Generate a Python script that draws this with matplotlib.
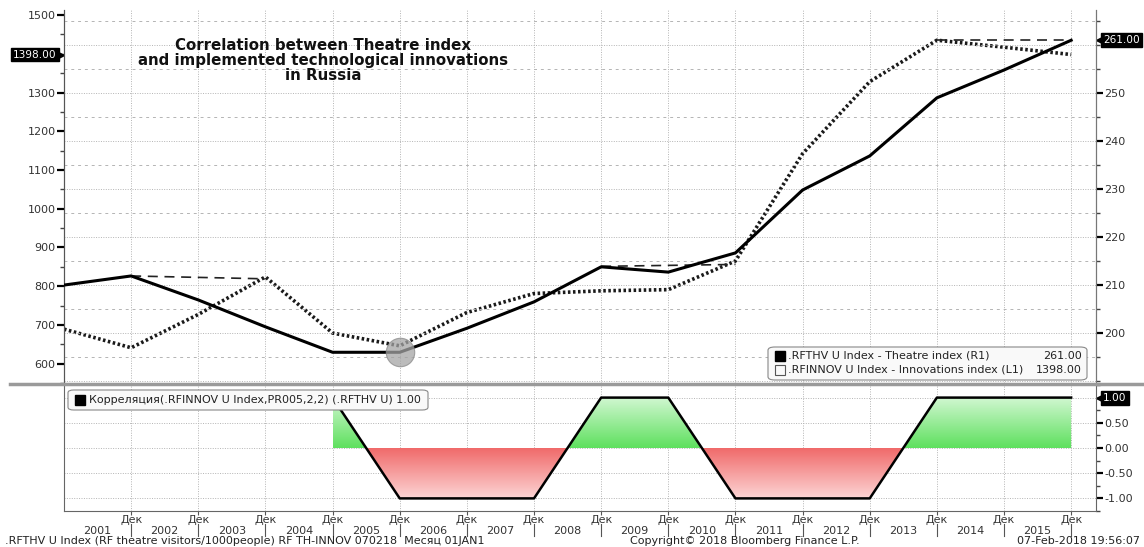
import numpy as np
import matplotlib
matplotlib.use("Agg")
import matplotlib.pyplot as plt
import matplotlib.transforms as mtransforms
from matplotlib.patches import FancyBboxPatch
from matplotlib.path import Path
from matplotlib.lines import Line2D
from matplotlib.colors import LinearSegmentedColormap

# annual data, value at December of each year
years = [2000, 2001, 2002, 2003, 2004, 2005, 2006, 2007,
         2008, 2009, 2010, 2011, 2012, 2013, 2014, 2015]
theatre = [210.0, 211.9, 206.9, 201.3, 196.0, 196.0, 201.0, 206.5,
           213.8, 212.7, 216.7, 229.8, 236.9, 249.0, 254.8, 261.0]
innov = [689, 641, 727, 824, 679, 646, 732, 781,
         788, 791, 865, 1142, 1328, 1435, 1417, 1398]

corr_years = [2004, 2005, 2006, 2007, 2008, 2009, 2010, 2011, 2012, 2013, 2014, 2015]
corr = [1, -1, -1, -1, 1, 1, -1, -1, -1, 1, 1, 1]

# dashed connector segments (right axis values)
seg_years = [(2001, 2003), (2008, 2010), (2013, 2015)]
seg_vals = [(211.9, 211.3), (213.9, 214.3), (261.0, 261.0)]

year_labels = [str(y) for y in range(2001, 2016)]
month_label = "Дек"

W, H = 1144, 547


def fx(px):
    return px / W


def fy(py):
    return 1 - py / H


fig = plt.figure(figsize=(W / 100, H / 100), dpi=100)
ax1 = fig.add_axes([fx(64), fy(383), fx(1096 - 64), (383 - 10) / H])
ax2 = ax1.twinx()
ax3 = fig.add_axes([fx(64), fy(511), fx(1096 - 64), (511 - 385) / H])

xmin, xmax = 2000, 2015.37
dec_pos = years[1:]
grid_c = "#b4b4b4"
txt_c = "#222222"
fs = 8

# ---- upper panel
for v in range(190, 270, 5):
    if v % 10 == 0:
        ax2.axhline(v, color=grid_c, lw=0.7, ls=(0, (1, 1.5)), zorder=0)
    else:
        ax2.axhline(v, color=grid_c, lw=0.7, ls=(0, (3, 4)), zorder=0)
for x in dec_pos:
    ax1.axvline(x, color=grid_c, lw=0.7, ls=(0, (1, 1.5)), zorder=0)

ax1.plot(years, innov, color="#1a1a1a", lw=2.6, ls=(0, (0.7, 0.7)), zorder=3)
ax2.plot(years, theatre, color="black", lw=2.2, zorder=3)
for (xa, xb), (va, vb) in zip(seg_years, seg_vals):
    ax2.plot([xa, xb], [va, vb], color="#222222", lw=1.2, ls=(0, (6, 4)), zorder=2)
ax2.scatter([years[5]], [theatre[5]], s=420, color="#a4a4a4", alpha=0.75,
            edgecolor="#8a8a8a", lw=0.8, zorder=4)

ax1.set_xlim(xmin, xmax)
ax1.set_ylim(562, 1513)
ax2.set_ylim(189.6, 267.3)
ax1.set_yticks([600, 700, 800, 900, 1000, 1100, 1200, 1300, 1500])
ax1.set_yticks(np.arange(550, 1520, 50), minor=True)
ax2.set_yticks([200, 210, 220, 230, 240, 250])
ax2.set_yticks(np.arange(190, 268, 5), minor=True)
ax1.set_xticks([])
for a in (ax1, ax2):
    a.tick_params(axis="y", which="major", length=5, width=1.6, color="black",
                  labelsize=fs, labelcolor="#333333", pad=1)
    a.tick_params(axis="y", which="minor", length=3, width=1.0, color="#444444")
    for s in ("top", "bottom"):
        a.spines[s].set_visible(False)
    a.spines["left"].set_color("#555555")
    a.spines["right"].set_color("#777777")

blend1 = mtransforms.blended_transform_factory(ax1.transAxes, ax1.transData)
blend2 = mtransforms.blended_transform_factory(ax2.transAxes, ax2.transData)
tag_style = dict(boxstyle="square,pad=0.18", fc="black", ec="black")
tag_fs = 7.6
ax1.text(-0.007, innov[-1], "%.2f" % innov[-1], transform=blend1, ha="right",
         va="center", color="white", fontsize=tag_fs, bbox=tag_style, zorder=10,
         clip_on=False)
ax1.plot([-0.004], [innov[-1]], marker=">", ms=6, color="black",
         transform=blend1, clip_on=False)
ax2.text(1.007, theatre[-1], "%.2f" % theatre[-1], transform=blend2, ha="left",
         va="center", color="white", fontsize=tag_fs, bbox=tag_style, zorder=10,
         clip_on=False)
ax2.plot([1.004], [theatre[-1]], marker="<", ms=6, color="black",
         transform=blend2, clip_on=False)

fig.text(fx(323), fy(60), "Correlation between Theatre index\n"
         "and implemented technological innovations\nin Russia",
         ha="center", va="center", fontsize=10.8, fontweight="bold",
         linespacing=1.0, color="#111111")

# upper legend
leg = FancyBboxPatch((fx(768), fy(380)), fx(1087 - 768), (380 - 347) / H,
                     boxstyle="round,pad=0,rounding_size=0.006",
                     transform=fig.transFigure, fc="#f9f9f9", ec="#888888",
                     lw=0.8, zorder=5)
fig.patches.append(leg)
fig.lines.append(Line2D([fx(780)], [fy(356)], marker="s", ms=7, color="black",
                        transform=fig.transFigure, zorder=6))
fig.lines.append(Line2D([fx(780)], [fy(370)], marker="s", ms=7, mfc="none",
                        mec="#555555", mew=0.8, ls="none",
                        transform=fig.transFigure, zorder=6))
fig.text(fx(788), fy(356), ".RFTHV U Index - Theatre index (R1)", fontsize=fs,
         va="center", zorder=7, color=txt_c)
fig.text(fx(788), fy(370), ".RFINNOV U Index - Innovations index (L1)",
         fontsize=fs, va="center", zorder=7, color=txt_c)
fig.text(fx(1082), fy(356), "%.2f" % theatre[-1], fontsize=fs, va="center",
         ha="right", zorder=7, color=txt_c)
fig.text(fx(1082), fy(370), "%.2f" % innov[-1], fontsize=fs, va="center",
         ha="right", zorder=7, color=txt_c)

# ---- lower panel
cx = np.array(corr_years, dtype=float)
cy = np.array(corr, dtype=float)
for v in (-1, -0.5, 0, 0.5, 1):
    ax3.axhline(v, color=grid_c, lw=0.7, ls=(0, (1, 1.5)), zorder=0)
for x in dec_pos:
    ax3.axvline(x, color=grid_c, lw=0.7, ls=(0, (1, 1.5)), zorder=0)


def grad_fill(ax, where, y0, y1, c_bottom, c_top):
    coll = ax.fill_between(cx, cy, 0, where=where, interpolate=True,
                           facecolor="none", edgecolor="none")
    path = Path.make_compound_path(*coll.get_paths())
    cmap = LinearSegmentedColormap.from_list("g", [c_bottom, c_top])
    grad = np.linspace(0, 1, 256).reshape(-1, 1)
    im = ax.imshow(grad, extent=[cx.min(), cx.max(), y0, y1], origin="lower",
                   cmap=cmap, aspect="auto", zorder=1, interpolation="bilinear")
    im.set_clip_path(path, ax.transData)


grad_fill(ax3, cy >= 0, 0, 1, "#5ee05e", "#d2f7d2")
grad_fill(ax3, cy <= 0, -1, 0, "#fcd4d4", "#f06868")
ax3.plot(cx, cy, color="black", lw=1.8, zorder=3)

ax3.set_xlim(xmin, xmax)
ax3.set_ylim(-1.235, 1.235)
ax3.yaxis.tick_right()
ax3.set_yticks([-1, -0.5, 0, 0.5])
ax3.set_yticklabels(["-1.00", "-0.50", "0.00", "0.50"])
ax3.set_yticks(np.arange(-1.25, 1.26, 0.25), minor=True)
ax3.tick_params(axis="y", which="major", length=5, width=1.6, color="black",
                labelsize=fs, labelcolor="#333333", pad=1)
ax3.tick_params(axis="y", which="minor", length=3, width=1.0, color="#444444")
ax3.set_xticks(dec_pos)
ax3.set_xticklabels([month_label] * len(dec_pos))
ax3.set_xticks([y - 0.5 for y in dec_pos], minor=True)
ax3.set_xticklabels(year_labels, minor=True)
ax3.tick_params(axis="x", which="major", length=3, width=0.8, color="#555555",
                labelsize=fs, labelcolor="#333333", pad=0)
ax3.tick_params(axis="x", which="minor", length=0, labelsize=fs,
                labelcolor="#333333", pad=11)
ax3.spines["top"].set_visible(False)
for s in ("left", "right", "bottom"):
    ax3.spines[s].set_color("#666666")

blend3 = mtransforms.blended_transform_factory(ax3.transData, ax3.transAxes)
for x in dec_pos:
    ax3.plot([x, x], [-0.1, -0.2], color="#555555", lw=0.8,
             transform=blend3, clip_on=False)

blend3y = mtransforms.blended_transform_factory(ax3.transAxes, ax3.transData)
ax3.text(1.007, corr[-1], "%.2f" % corr[-1], transform=blend3y, ha="left",
         va="center", color="white", fontsize=tag_fs, bbox=tag_style, zorder=10,
         clip_on=False)
ax3.plot([1.004], [corr[-1]], marker="<", ms=6, color="black",
         transform=blend3y, clip_on=False)

leg2 = FancyBboxPatch((fx(68), fy(410)), fx(428 - 68), (410 - 390) / H,
                      boxstyle="round,pad=0,rounding_size=0.005",
                      transform=fig.transFigure, fc="#f9f9f9", ec="#888888",
                      lw=0.8, zorder=5)
fig.patches.append(leg2)
fig.lines.append(Line2D([fx(80)], [fy(400)], marker="s", ms=7, color="black",
                        transform=fig.transFigure, zorder=6))
fig.text(fx(89), fy(400), "Корреляция(.RFINNOV U Index,PR005,2,2) (.RFTHV U) %.2f"
         % corr[-1], fontsize=fs, va="center", zorder=7, color=txt_c)

# panel divider
fig.lines.append(Line2D([fx(10), 1], [fy(384), fy(384)], color="#9a9a9a", lw=2.5,
                        transform=fig.transFigure, zorder=8))

# footer
fig.text(fx(5), fy(541), ".RFTHV U Index (RF theatre visitors/1000people) RF TH-INNOV 070218  Месяц 01JAN1",
         fontsize=fs, va="center", color=txt_c)
fig.text(fx(745), fy(541), "Copyright© 2018 Bloomberg Finance L.P.", fontsize=fs,
         va="center", ha="center", color=txt_c)
fig.text(fx(1140), fy(541), "07-Feb-2018 19:56:07", fontsize=fs, va="center",
         ha="right", color=txt_c)

fig.savefig("out.png", dpi=100)
